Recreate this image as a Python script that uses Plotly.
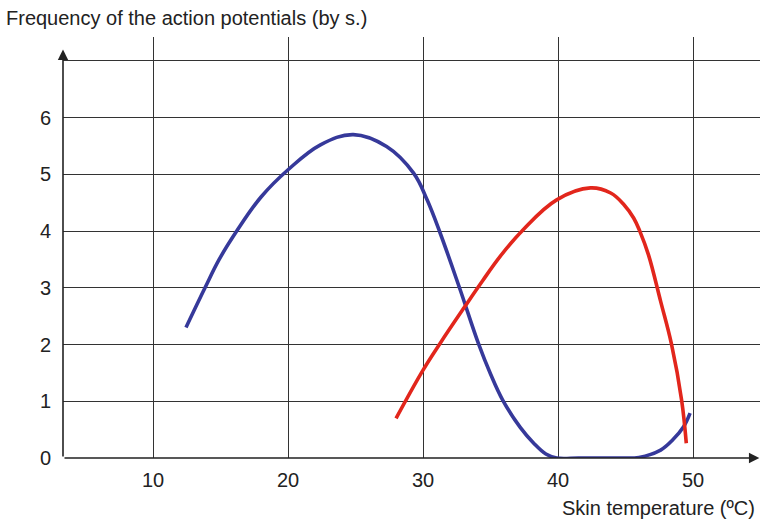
import plotly.graph_objects as go

# Data
blue_x = [12.44, 13.85, 14.9, 16.2, 18.0, 20.0, 22.4, 24.84, 27.3, 29.3, 30.3, 31.26, 32.7, 34.1, 35.0, 35.9, 37.2, 38.2, 39.1, 39.9, 41.5, 43.0, 44.5, 46.0, 47.6, 48.5, 49.3, 49.78]
blue_y = [2.30, 3.0, 3.5, 4.0, 4.6, 5.08, 5.52, 5.70, 5.49, 5.02, 4.55, 3.97, 3.0, 2.02, 1.48, 1.02, 0.54, 0.26, 0.07, 0.0, 0.0, 0.0, 0.0, 0.01, 0.14, 0.32, 0.55, 0.79]

red_x = [28.0, 30.0, 31.26, 33.1, 34.4, 35.7, 37.4, 39.9, 42.4, 43.9, 44.9, 45.6, 46.07, 46.7, 47.6, 48.4, 49.16, 49.5]
red_y = [0.70, 1.55, 2.02, 2.67, 3.12, 3.55, 4.02, 4.55, 4.76, 4.67, 4.46, 4.23, 3.99, 3.58, 2.76, 2.01, 1.01, 0.26]

x_ticks = [10, 20, 30, 40, 50]
y_ticks = [0, 1, 2, 3, 4, 5, 6, 7]
y_tick_text = ["0", "1", "2", "3", "4", "5", "6", ""]

FONT = "Liberation Sans, Arial, Helvetica, sans-serif"
GRID = "#333333"
TXT = "#222222"
FS = 20

X0, X1 = 3.33, 54.96
Y0, Y1 = 0, 7.42
L, R, T, B = 63, 2, 37, 62
W, H = 762, 520
PW, PH = W - L - R, H - T - B

fig = go.Figure()
fig.add_trace(go.Scatter(x=blue_x, y=blue_y, mode="lines",
                         line=dict(color="#36399a", width=3.6, shape="spline", smoothing=1.1),
                         hoverinfo="skip"))
fig.add_trace(go.Scatter(x=red_x, y=red_y, mode="lines",
                         line=dict(color="#e2261c", width=3.6, shape="spline", smoothing=1.1),
                         hoverinfo="skip"))

fig.update_layout(
    width=W, height=H,
    margin=dict(l=L, r=R, t=T, b=B),
    paper_bgcolor="white", plot_bgcolor="white",
    showlegend=False,
    font=dict(family=FONT, size=FS, color=TXT),
    title=dict(text="Frequency of the action potentials (by s.)", xref="container", yref="container",
               x=6 / W, xanchor="left", y=1 - 18 / H, yanchor="middle",
               font=dict(size=FS, family=FONT, color=TXT)),
    xaxis=dict(range=[X0, X1], tickvals=x_ticks, showgrid=True, gridcolor=GRID,
               gridwidth=1.4, zeroline=False, showline=False, ticks="",
               ticklabelstandoff=8, tickfont=dict(size=FS, family=FONT, color=TXT)),
    yaxis=dict(range=[Y0, Y1], tickvals=y_ticks, ticktext=y_tick_text, showgrid=True,
               gridcolor=GRID, gridwidth=1.4, zeroline=False, showline=False, ticks="",
               ticklabelstandoff=11, tickfont=dict(size=FS, family=FONT, color=TXT)),
)

# Axes with arrows
fig.add_annotation(x=X1 - 0.05, y=0, ax=X0, ay=0, xref="x", yref="y", axref="x", ayref="y",
                   showarrow=True, arrowhead=2, arrowsize=1.3, arrowwidth=1.6,
                   arrowcolor=TXT, text="")
fig.add_annotation(x=X0, y=7.2, ax=X0, ay=0, xref="x", yref="y", axref="x", ayref="y",
                   showarrow=True, arrowhead=2, arrowsize=1.3, arrowwidth=1.6,
                   arrowcolor=TXT, text="")

# X axis title (paper coords are relative to the plot area)
fig.add_annotation(x=(757 - L) / PW, y=(H - B - 508) / PH, xref="paper", yref="paper",
                   xanchor="right", yanchor="middle", text="Skin temperature (ºC)",
                   showarrow=False, font=dict(size=FS, family=FONT, color=TXT))

fig.write_html("out.html", config={"displayModeBar": False},
               post_script="document.body.style.margin='0';")
